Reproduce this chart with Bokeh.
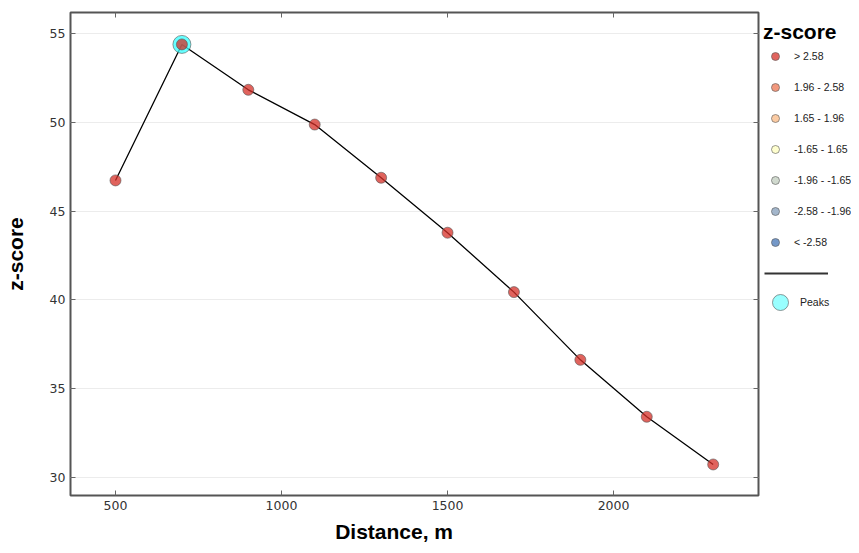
from bokeh.plotting import figure
from bokeh.layouts import row
from bokeh.models import (Range1d, FixedTicker, LinearAxis, Legend, LegendItem,
                          ColumnDataSource, CustomJSTickFormatter)
from bokeh.embed import file_html
from bokeh.resources import INLINE

# ---- data ----
distance = [500, 700, 900, 1100, 1300, 1500, 1700, 1900, 2100, 2300]
zscore = [46.73, 54.40, 51.84, 49.88, 46.88, 43.78, 40.43, 36.61, 33.40, 30.71]
point_bin = ["> 2.58"] * 10
peak_distance = [700]
peak_zscore = [54.40]

bins = ["> 2.58", "1.96 - 2.58", "1.65 - 1.96", "-1.65 - 1.65",
        "-1.96 - -1.65", "-2.58 - -1.96", "< -2.58"]
bin_colors = ["#d62f27", "#ed7551", "#fab984", "#ffffbf",
              "#c0ccbe", "#849eba", "#4575b5"]

x_ticks = [500, 1000, 1500, 2000]
y_ticks = [30, 35, 40, 45, 50, 55]

LAB_FONT = "Liberation Sans"
TICK_FONT = "DejaVu Sans"
NAN = float("nan")

color_of = dict(zip(bins, bin_colors))
src = ColumnDataSource(dict(x=distance, y=zscore,
                            c=[color_of[b] for b in point_bin]))
peak_src = ColumnDataSource(dict(x=peak_distance, y=peak_zscore))

# ---------------- main plot ----------------
p = figure(width=761, height=545, output_backend="svg", toolbar_location=None,
           x_range=Range1d(364.5, 2436.5), y_range=Range1d(28.96, 56.2),
           min_border_left=70, min_border_right=3, min_border_top=12,
           min_border_bottom=50)
p.outline_line_color = "#555555"
p.outline_line_width = 2
p.border_fill_color = "white"

p.xgrid.grid_line_color = None
p.ygrid.grid_line_color = "#ececec"
p.ygrid.ticker = FixedTicker(ticks=y_ticks)

for ax in (p.xaxis[0], p.yaxis[0]):
    ax.axis_line_color = None
    ax.major_tick_in = 5
    ax.major_tick_out = 0
    ax.minor_tick_line_color = None
    ax.major_tick_line_color = "#666666"
    ax.major_label_text_font = TICK_FONT
    ax.major_label_text_font_size = "12.5px"
    ax.major_label_text_color = "#333333"
    ax.major_label_standoff = 5
    ax.axis_label_text_font = LAB_FONT
    ax.axis_label_text_font_style = "bold"
    ax.axis_label_text_font_size = "21px"
    ax.axis_label_text_color = "black"
p.xaxis[0].ticker = FixedTicker(ticks=x_ticks)
p.yaxis[0].ticker = FixedTicker(ticks=y_ticks)

p.yaxis[0].axis_label = "z-score"
p.yaxis[0].axis_label_standoff = 20
p.xaxis[0].axis_label = "Distance, m" + "\u00a0" * 7
p.xaxis[0].axis_label_standoff = 7

# top / right axes: inside ticks only
blank = CustomJSTickFormatter(code="return ''")
for side, tk in (("above", x_ticks), ("right", y_ticks)):
    ax = LinearAxis(ticker=FixedTicker(ticks=tk), formatter=blank)
    ax.axis_line_color = None
    ax.major_tick_in = 5
    ax.major_tick_out = 0
    ax.minor_tick_line_color = None
    ax.major_tick_line_color = "#666666"
    ax.major_label_standoff = 0
    p.add_layout(ax, side)

p.line("x", "y", source=src, line_color="black", line_width=1.3)
p.scatter("x", "y", source=peak_src, size=18, marker="circle",
          fill_color="#33ffff", fill_alpha=0.75,
          line_color="#555555", line_alpha=0.6, line_width=1)
p.scatter("x", "y", source=src, size=11, marker="circle",
          fill_color="c", fill_alpha=0.75,
          line_color="#555555", line_alpha=0.6, line_width=1)

# ---------------- legend panel ----------------
lg = figure(width=90, height=545, output_backend="svg", toolbar_location=None,
            x_range=Range1d(0, 1), y_range=Range1d(0, 1),
            min_border=0, x_axis_type=None, y_axis_type=None)
lg.outline_line_color = None
lg.xgrid.visible = False
lg.ygrid.visible = False

cat_items = []
for b, col in zip(bins, bin_colors):
    r = lg.scatter(x=[NAN], y=[NAN], size=8, marker="circle", fill_color=col,
                   fill_alpha=0.75, line_color="#555555", line_alpha=0.6)
    cat_items.append(LegendItem(label=b, renderers=[r]))
sep_r = lg.line(x=[NAN, NAN], y=[NAN, NAN], line_color="#333333", line_width=2)
pk_r = lg.scatter(x=[NAN], y=[NAN], size=16, marker="circle",
                  fill_color="#33ffff", fill_alpha=0.5,
                  line_color="#555555", line_alpha=0.6)

common = dict(padding=0, margin=0, border_line_color=None,
              background_fill_alpha=0, label_text_font=LAB_FONT,
              label_text_font_size="10.5px", label_text_color="#222222")
legA = Legend(items=cat_items, location=(2, 243), title="z-score",
              title_text_font=LAB_FONT, title_text_font_style="bold",
              title_text_font_size="21px", title_text_color="black",
              title_standoff=1, glyph_width=24, glyph_height=20,
              label_height=21, spacing=10, label_standoff=7, **common)
legB = Legend(items=[LegendItem(label=" ", renderers=[sep_r])],
              location=(3, 212), glyph_width=64, glyph_height=20,
              label_height=20, label_standoff=0, **common)
legC = Legend(items=[LegendItem(label="Peaks", renderers=[pk_r])],
              location=(-1, 173), glyph_width=40, glyph_height=40,
              label_height=40, label_standoff=0, **common)
for L in (legA, legB, legC):
    lg.add_layout(L, "center")

layout = row(p, lg)
open("out.html", "w").write(file_html(layout, INLINE))
